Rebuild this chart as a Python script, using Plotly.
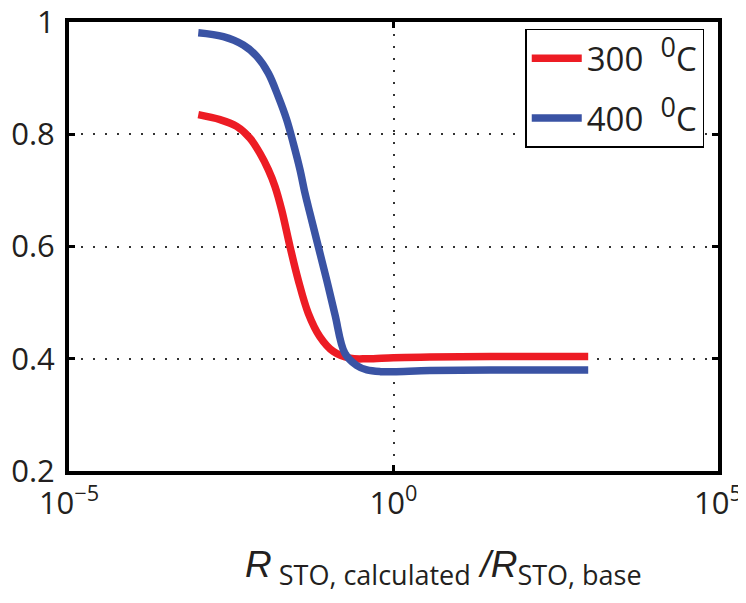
import plotly.graph_objects as go

# ---- data ----
logx_300 = [-3.008, -2.673, -2.416, -2.211, -2.057, -1.929, -1.826, -1.723, -1.595, -1.467, -1.313, -1.133, -0.928, -0.670, -0.4, 0.0, 0.56, 1.5, 3.0]
y_300 = [0.835, 0.826, 0.814, 0.793, 0.766, 0.737, 0.707, 0.665, 0.600, 0.540, 0.481, 0.439, 0.413, 0.401, 0.400, 0.402, 0.403, 0.404, 0.404]

logx_400 = [-3.008, -2.622, -2.314, -2.108, -1.929, -1.775, -1.646, -1.544, -1.441, -1.364, -1.287, -1.159, -1.029, -0.901, -0.75, -0.567, -0.41, -0.2, 0.0, 0.56, 1.5, 3.0]
y_400 = [0.981, 0.974, 0.959, 0.939, 0.909, 0.867, 0.826, 0.784, 0.737, 0.695, 0.659, 0.600, 0.540, 0.478, 0.410, 0.388, 0.380, 0.377, 0.377, 0.379, 0.380, 0.380]

x_300 = [10 ** v for v in logx_300]
x_400 = [10 ** v for v in logx_400]

series_names = ['300&nbsp; <sup><span style="font-size:27px">0</span></sup>C',
                '400&nbsp; <sup><span style="font-size:27px">0</span></sup>C']
series_colors = ["#ED1C24", "#3A53A4"]

x_tickvals = [1e-5, 1e0, 1e5]
x_ticktext = ["10<sup>\u22125</sup>", "10<sup>0</sup>", "10<sup>5</sup>"]
y_tickvals = [0.2, 0.4, 0.6, 0.8, 1.0]
y_ticktext = ["0.2", "0.4", "0.6", "0.8", "1"]

FONT = "Open Sans"
TXT = "#231F20"

fig = go.Figure()
for i, (xs, ys, name, col) in enumerate([(x_300, y_300, series_names[0], series_colors[0]),
                                          (x_400, y_400, series_names[1], series_colors[1])]):
    fig.add_trace(go.Scatter(x=xs, y=ys, mode="lines", name=name, legendgroup=f"g{i}",
                             line=dict(color=col, width=7.5, shape="spline", smoothing=1.0)))

axis_common = dict(
    showline=True, linecolor="black", linewidth=4, mirror="ticks",
    ticks="inside", ticklen=6, tickwidth=3, tickcolor="black",
    showgrid=True, gridcolor="#333333", gridwidth=1.5, griddash="2px,10px",
    zeroline=False, automargin=False, ticklabeloverflow="allow",
    tickfont=dict(family=FONT, size=31, color=TXT),
)

fig.update_xaxes(type="log", range=[-5, 5], tickvals=x_tickvals, ticktext=x_ticktext,
                 ticklabelstandoff=2, **axis_common)
fig.update_yaxes(range=[0.2, 1.0], tickvals=y_tickvals, ticktext=y_ticktext,
                 ticklabelstandoff=4, **axis_common)

fig.add_annotation(
    xref="paper", yref="paper", x=0.268, y=-0.21, xanchor="left", yanchor="middle",
    showarrow=False,
    text=('<span style="font-family:Liberation Sans;font-size:37px"><i>R</i></span>'
          '<sub><span style="font-size:27px"> STO, calculated</span></sub> '
          '<span style="font-family:Liberation Sans;font-size:37px"><i>/R</i></span>'
          '<sub><span style="font-size:27px">STO, base</span></sub>'),
    font=dict(family=FONT, size=37, color=TXT),
)

# the page body adds an 8px offset; margins compensate so the plot frame
# lands at x 69..718, y 22..471 in the window
fig.update_layout(
    width=746, height=603, autosize=False,
    margin=dict(l=61, r=36, t=14, b=140),
    paper_bgcolor="white", plot_bgcolor="white",
    showlegend=True,
    legend=dict(x=0.703, y=0.985, xanchor="left", yanchor="top",
                bordercolor="black", borderwidth=1.5, bgcolor="white",
                itemwidth=50, tracegroupgap=14,
                font=dict(family=FONT, size=33, color=TXT)),
)

fig.write_html("out.html")
